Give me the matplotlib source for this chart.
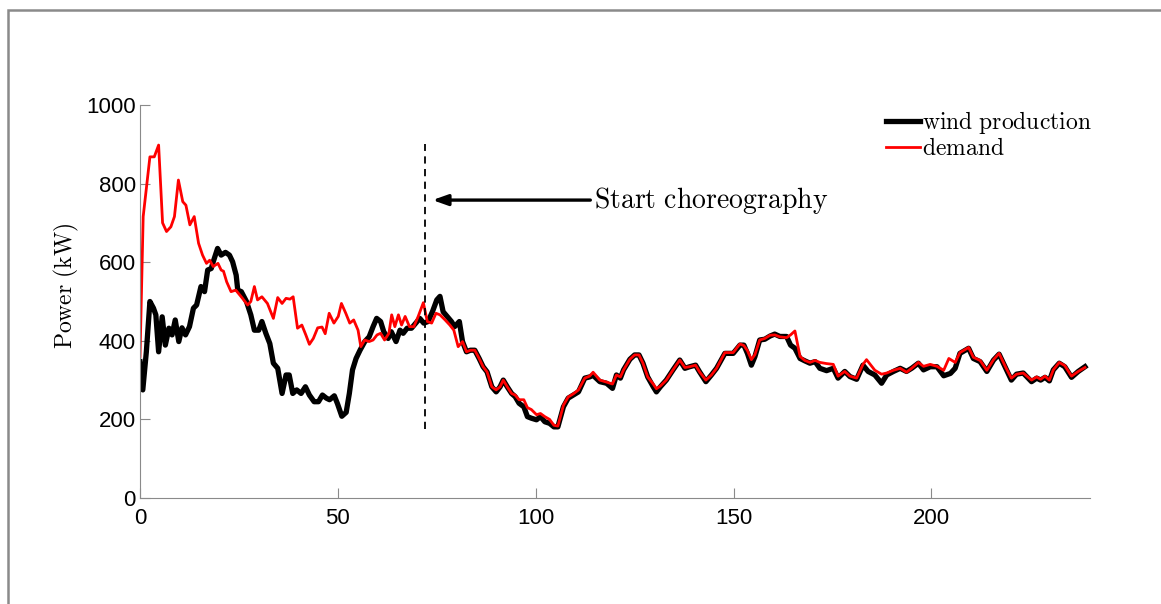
import matplotlib.pyplot as plt
from matplotlib.patches import Rectangle

plt.rcParams['mathtext.fontset'] = 'cm'

# wind production (kW)
wind_t = [0, 0.7, 1.6, 2.5, 3.4, 4.0, 4.7, 5.6, 6.4, 7.3, 8.1, 8.9, 9.8, 10.6, 11.5, 12.5, 13.5, 14.3,
          15.4, 16.3, 17.1, 18.0, 18.5, 19.6, 20.5, 21.6, 22.6, 23.4, 24.3, 24.7, 25.6, 26.9, 28.0, 28.9,
          30.0, 30.8, 31.8, 32.8, 33.7, 34.8, 35.9, 36.9, 37.7, 38.6, 39.6, 40.7, 41.8, 42.8, 44.0, 45.1,
          46.1, 47.1, 47.9, 49.1, 49.9, 51.0, 52.1, 52.9, 53.7, 54.6, 55.6, 56.8, 57.9, 58.9, 59.8, 60.8,
          61.6, 62.7, 63.5, 64.7, 65.7, 66.5, 67.5, 68.6, 69.7, 70.7, 71.7, 72.8, 73.9, 75.0, 75.8, 76.6,
          77.6, 78.7, 79.5, 80.7, 81.5, 82.5, 83.5, 84.6, 85.7, 86.7, 87.7, 88.9, 90.0, 91.0, 91.8, 92.8,
          93.9, 94.8, 95.8, 97.0, 97.9, 98.9, 100.2, 101.2, 102.3, 103.5, 104.6, 105.6, 107.0, 108.2,
          109.5, 110.8, 112.4, 113.6, 114.5, 116.2, 117.9, 119.4, 120.4, 121.4, 122.2, 123.8, 125.0,
          126.1, 127.1, 128.3, 129.7, 130.5, 131.5, 133.0, 134.7, 136.4, 137.7, 138.9, 140.4, 141.4,
          143.0, 144.4, 145.7, 147.8, 149.9, 151.6, 152.6, 153.5, 154.5, 155.4, 156.6, 157.9, 159.2,
          160.4, 161.7, 163.4, 164.4, 165.5, 166.8, 168.0, 169.3, 170.6, 171.8, 173.5, 175.2, 176.4,
          178.1, 179.4, 181.1, 182.7, 184.0, 185.7, 187.4, 188.7, 190.4, 192.1, 193.7, 195.0, 196.7,
          198.0, 199.7, 201.4, 203.1, 204.8, 206.0, 207.2, 209.4, 210.6, 212.3, 214.0, 215.7, 217.1,
          218.8, 220.2, 221.5, 223.2, 225.3, 226.6, 227.6, 228.7, 229.8, 230.8, 232.3, 233.7, 235.4,
          237.1, 238.8]
wind_p = [347, 275, 372, 500, 483, 466, 372, 461, 389, 432, 415, 453, 398, 433, 415, 436, 483, 491,
          538, 525, 580, 584, 601, 635, 618, 625, 618, 601, 567, 529, 525, 500, 466, 427,
          427, 449, 419, 393, 343, 330, 266, 313, 313, 266, 275, 266, 283, 262, 245, 245,
          262, 254, 250, 260, 240, 208, 218, 266, 326, 355, 376, 398, 410, 436, 457, 449,
          423, 406, 423, 398, 427, 419, 432, 432, 445, 457, 445, 449, 474, 504, 513, 474,
          462, 449, 436, 449, 398, 372, 376, 376, 355, 334, 321, 283, 270, 283, 300, 283,
          266, 258, 241, 232, 207, 203, 199, 207, 194, 190, 181, 181, 232, 254,
          262, 270, 305, 308, 312, 296, 292, 279, 313, 305, 326, 353, 364,
          364, 343, 308, 283, 270, 283, 300, 326, 351, 330, 334, 338, 321,
          296, 313, 330, 368, 368, 389, 389, 368, 338, 360, 402, 404, 412,
          417, 411, 411, 389, 381, 355, 349, 343, 347, 330, 324, 330, 305,
          322, 309, 302, 338, 322, 313, 292, 313, 322, 330, 322, 330, 343,
          326, 334, 334, 311, 317, 330, 368, 381, 355, 347, 322, 351, 366,
          330, 300, 315, 318, 296, 305, 300, 307, 298, 326, 343, 334, 307,
          322, 334]

# demand (kW)
demand_t = [0, 0.8, 2.5, 3.6, 4.7, 5.7, 6.7, 7.8, 8.7, 9.7, 10.8, 11.6, 12.6, 13.7, 14.8, 15.8, 16.8,
            17.6, 18.5, 19.7, 20.5, 21.1, 21.9, 23.0, 24.2, 25.9, 27.2, 28.0, 28.9, 29.7, 30.8, 32.2,
            33.7, 34.8, 35.9, 36.9, 37.9, 38.7, 39.8, 40.9, 41.9, 42.8, 43.8, 44.9, 46.0, 46.8, 47.8,
            49.0, 50.1, 50.9, 52.0, 53.0, 54.0, 55.1, 55.8, 56.8, 57.9, 58.9, 59.9, 60.8, 61.8, 62.9,
            63.6, 64.4, 65.3, 66.1, 67.0, 68.1, 69.2, 70.3, 71.6, 72.6, 73.7, 74.8, 75.8, 77.1, 78.3,
            79.3, 80.4, 81.5, 82.5, 83.5, 84.6, 85.7, 86.7, 87.7, 88.9, 90.0, 91.0, 91.8, 92.8, 93.9,
            94.8, 95.8, 97.0, 97.9, 98.9, 100.2, 101.2, 102.3, 103.5, 104.6, 105.6, 107.0, 108.2,
            109.5, 110.8, 112.4, 113.6, 114.5, 116.2, 117.9, 119.4, 120.4, 121.4, 122.2, 123.8, 125.0,
            126.1, 127.1, 128.3, 129.7, 130.5, 131.5, 133.0, 134.7, 136.4, 137.7, 138.9, 140.4, 141.4,
            143.0, 144.4, 145.7, 147.8, 149.9, 151.6, 152.6, 153.5, 154.5, 155.4, 156.6, 157.9, 159.2,
            160.4, 161.7, 163.4, 164.4, 165.5, 166.8, 168.0, 169.3, 170.6, 171.8, 173.5, 175.2, 176.4,
            178.1, 179.4, 181.1, 182.7, 183.6, 185.7, 187.4, 188.7, 190.4, 192.1, 193.7, 195.0, 196.7,
            198.0, 199.7, 201.4, 203.1, 204.4, 206.0, 207.2, 209.4, 210.6, 212.3, 214.0, 215.7, 217.1,
            218.8, 220.2, 221.5, 223.2, 225.3, 226.6, 227.6, 228.7, 229.8, 230.8, 232.3, 233.7, 235.4,
            237.1, 238.8]
demand_p = [360, 716, 868, 868, 898, 700, 678, 690, 716, 809, 754, 745, 695, 716, 648, 618, 597,
            605, 589, 597, 580, 577, 550, 525, 529, 508, 491, 500, 538, 504, 512, 495,
            457, 510, 495, 508, 506, 512, 432, 440, 415, 391, 406, 433, 435, 418, 470,
            445, 462, 495, 470, 445, 453, 427, 385, 402, 398, 402, 415, 419, 402, 419,
            466, 436, 466, 440, 462, 436, 436, 462, 497, 449, 445, 470, 466, 453, 440,
            427, 385, 398, 372, 376, 376, 355, 334, 321, 283, 275, 283, 300, 283, 266,
            262, 250, 250, 230, 225, 212, 215, 207, 200, 185, 183, 236, 257,
            265, 275, 305, 310, 320, 300, 295, 290, 313, 308, 326, 353, 364,
            364, 343, 308, 290, 278, 285, 300, 326, 351, 332, 334, 338, 321,
            300, 313, 330, 370, 370, 392, 388, 375, 352, 365, 402, 406, 414,
            415, 410, 408, 415, 425, 360, 350, 345, 350, 345, 342, 340, 310,
            322, 310, 305, 340, 352, 325, 315, 318, 325, 330, 320, 330, 345,
            335, 340, 335, 325, 355, 345, 370, 383, 358, 350, 325, 352, 368,
            332, 305, 315, 318, 300, 308, 302, 310, 300, 326, 345, 337, 310,
            322, 332]

start_t = 72
arrow_tail = (114.5, 758)

fig = plt.figure(figsize=(11.61, 6.04), dpi=100)
fig.patches.append(Rectangle((0.0069, -0.05), 1.1, 0.9834 + 0.05, transform=fig.transFigure,
                             fill=False, edgecolor='#8a8a8a', linewidth=1.8))
ax = fig.add_axes([0.1206, 0.1755, 0.818, 0.6507])

ax.plot(wind_t, wind_p, color='black', linewidth=3.8, label=r'$\mathrm{wind\ production}$')
ax.plot(demand_t, demand_p, color='#ff0000', linewidth=2.0, label=r'$\mathrm{demand}$')

ax.plot([start_t, start_t], [175, 900], color='black', linestyle='--', linewidth=1.3, dashes=(4, 3))
ax.annotate('', xy=(start_t + 1.2, arrow_tail[1]), xytext=arrow_tail,
            arrowprops=dict(arrowstyle='-|>,head_length=0.9,head_width=0.32', color='black', lw=2.4))
ax.text(arrow_tail[0] + 0.2, arrow_tail[1], r'$\mathrm{Start\ choreography}$', fontsize=20,
        va='center', ha='left')

ax.set_xlim(0, 240)
ax.set_ylim(0, 1000)
ax.set_xticks([0, 50, 100, 150, 200])
ax.set_yticks([0, 200, 400, 600, 800, 1000])
for s in ['top', 'right']:
    ax.spines[s].set_visible(False)
for s in ['left', 'bottom']:
    ax.spines[s].set_color('#8a8a8a')
ax.tick_params(direction='in', length=7, color='#8a8a8a', labelsize=16)
ax.tick_params(axis='y', pad=3)
ax.tick_params(axis='x', pad=7)
for lbl in ax.get_xticklabels() + ax.get_yticklabels():
    lbl.set_fontfamily('Liberation Sans')
ax.set_ylabel(r'$\mathrm{Power\ (kW)}$', fontsize=17)
ax.yaxis.set_label_coords(-0.062, 0.54)

ax.legend(loc='upper left', bbox_to_anchor=(0.785, 0.99), frameon=False, fontsize=17,
          handlelength=1.45, handletextpad=0.1, labelspacing=0.0, borderpad=0, borderaxespad=0)

plt.savefig('out.png', dpi=100)
